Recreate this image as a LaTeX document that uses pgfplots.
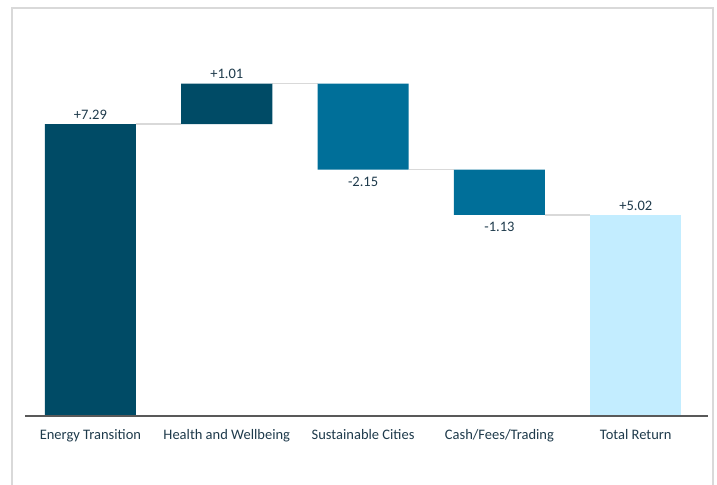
\documentclass[border=0pt]{standalone}
\usepackage{pgfplots}
\pgfplotsset{compat=1.18}
\usepackage{fontspec}
\setmainfont{Carlito}
\definecolor{dk}{HTML}{004B66}
\definecolor{md}{HTML}{006F99}
\definecolor{lt}{HTML}{C3EDFF}
\definecolor{txt}{HTML}{1E3A4B}
\definecolor{framec}{HTML}{D9D9D9}
\definecolor{axc}{HTML}{595959}
\pgfplotsset{
  common/.style={
    at={(25bp,69bp)}, anchor=south west,
    width=683bp, height=400.5bp, scale only axis,
    xmin=-0.48, xmax=4.53, ymin=0, ymax=10,
    axis y line=none,
    axis x line*=bottom,
    x axis line style={draw=axc, line width=1.5bp},
    xtick={0,1,2,3,4},
    xticklabels={Energy Transition, Health and Wellbeing, Sustainable Cities, Cash/Fees/Trading, Total Return},
    major tick length=0pt,
    xticklabel style={anchor=base, yshift=-23.5bp, text=txt, font=\fontsize{14.5bp}{17bp}\selectfont},
    clip=false,
  }
}
\begin{document}
\begin{tikzpicture}[x=1bp,y=1bp]
\useasboundingbox (0,0) rectangle (717,485);
\draw[framec, line width=1.5bp] (12,-2) -- (12,477) -- (713,477) -- (713,-2);
% connectors and labels
\begin{axis}[common]
\addplot[framec, line width=1.3bp] coordinates {(0.334,7.29) (0.666,7.29)};
\addplot[framec, line width=1.3bp] coordinates {(1.334,8.30) (1.666,8.30)};
\addplot[framec, line width=1.3bp] coordinates {(2.334,6.15) (2.666,6.15)};
\addplot[framec, line width=1.3bp] coordinates {(3.334,5.02) (3.666,5.02)};
\begin{scope}[every node/.style={text=txt, font=\fontsize{14.5bp}{17bp}\selectfont, inner sep=0pt, anchor=base}]
\node[yshift=4.7bp] at (axis cs:0,7.29) {+7.29};
\node[yshift=4.7bp] at (axis cs:1,8.30) {+1.01};
\node[yshift=-16.5bp] at (axis cs:2,6.15) {-2.15};
\node[yshift=-16.5bp] at (axis cs:3,5.02) {-1.13};
\node[yshift=4.7bp] at (axis cs:4,5.02) {+5.02};
\end{scope}
\end{axis}
% bars
\begin{axis}[common, ybar stacked, bar width=0.668, xticklabels={}, x axis line style={draw=none}]
\addplot[draw=none, fill=none] coordinates {(0,0) (1,7.29) (2,6.15) (3,5.02) (4,0)};
\addplot[fill=dk, draw=none] coordinates {(0,7.29) (1,1.01) (2,0) (3,0) (4,0)};
\addplot[fill=md, draw=none] coordinates {(0,0) (1,0) (2,2.15) (3,1.13) (4,0)};
\addplot[fill=lt, draw=none] coordinates {(0,0) (1,0) (2,0) (3,0) (4,5.02)};
\end{axis}
% redraw x axis line on top
\begin{axis}[common, xticklabels={}]
\end{axis}
\end{tikzpicture}
\end{document}
